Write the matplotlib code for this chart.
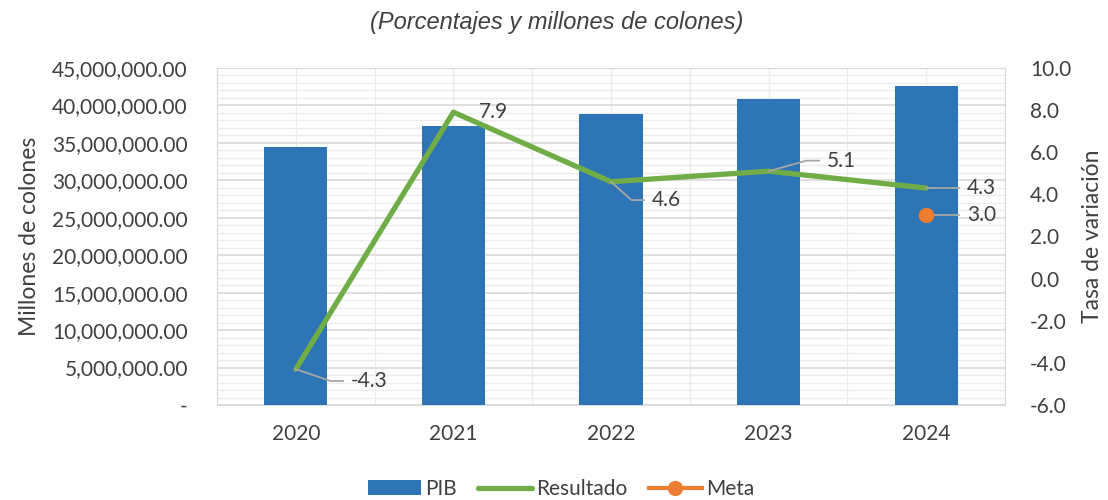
import matplotlib.pyplot as plt
from matplotlib.ticker import FuncFormatter, MultipleLocator
import numpy as np

years = ["2020", "2021", "2022", "2023", "2024"]
pib = [34400000, 37200000, 38900000, 40900000, 42600000]
resultado = [-4.3, 7.9, 4.6, 5.1, 4.3]
meta = [None, None, None, None, 3.0]

plt.rcParams["font.family"] = ["Lato", "DejaVu Sans"]
txt = "#404040"
fs = 15

fig = plt.figure(figsize=(11.08, 5), dpi=100)
ax = fig.add_axes([217 / 1108, 1 - 405 / 500, (1005 - 217) / 1108, (405 - 68) / 500])
x = np.arange(len(years))

ax.bar(x, pib, width=0.4, color="#2E75B6", zorder=3, label="PIB")
ax.set_xlim(-0.5, len(years) - 0.5)
ax.set_ylim(0, 45000000)
ax.yaxis.set_major_locator(MultipleLocator(5000000))
ax.yaxis.set_minor_locator(MultipleLocator(1000000))
ax.xaxis.set_major_locator(MultipleLocator(1))
ax.xaxis.set_minor_locator(MultipleLocator(0.5))
ax.set_xticks(x)
ax.set_xticklabels(years)
ax.yaxis.set_major_formatter(FuncFormatter(lambda v, p: "-" if v == 0 else f"{v:,.2f}"))
ax.grid(which="major", axis="y", color="#d9d9d9", lw=1.2, zorder=0)
ax.grid(which="minor", axis="y", color="#ececec", lw=1.0, zorder=0)
ax.grid(which="both", axis="x", color="#ececec", lw=1.0, zorder=0)
ax.tick_params(which="both", length=0, labelsize=fs, colors=txt, pad=21)
ax.tick_params(axis="x", pad=14)
for s in ax.spines.values():
    s.set_color("#d9d9d9")
ax.set_ylabel("Millones de colones", fontsize=16.5, color=txt, labelpad=9)

ax2 = ax.twinx()
ax2.set_ylim(-6, 10)
ax2.yaxis.set_major_locator(MultipleLocator(2))
ax2.yaxis.set_major_formatter(FuncFormatter(lambda v, p: f"{v:.1f}"))
ax2.tick_params(length=0, labelsize=fs, colors=txt, pad=18)
for s in ax2.spines.values():
    s.set_visible(False)
ax2.set_ylabel("Tasa de variación", fontsize=16.5, color=txt, labelpad=8)

ax2.plot(x, resultado, color="#70AD47", lw=3.8, zorder=4, label="Resultado", solid_capstyle="round")
meta_y = [np.nan if m is None else m for m in meta]
ax2.plot(x, meta_y, color="#ED7D31", lw=3, marker="o", ms=10, zorder=5, label="Meta")

# data labels with leader lines
lead = "#a6a6a6"
offs = [(0.35, -0.56), (0.16, 0.0), (0.26, -0.87), (0.37, 0.5), (0.26, 0.0)]
for i, (v, (dx, dy)) in enumerate(zip(resultado, offs)):
    tx, ty = x[i] + dx, v + dy
    if i == 1:
        ax2.text(tx, ty, f"{v:.1f}", fontsize=fs, color=txt, va="center", ha="left")
        continue
    if dy == 0:
        ax2.plot([x[i], tx - 0.05], [v, v], color=lead, lw=1.3, zorder=4)
    else:
        ax2.plot([x[i], tx - 0.13, tx - 0.05], [v, ty, ty], color=lead, lw=1.3, zorder=4)
    ax2.text(tx, ty, f"{v:.1f}", fontsize=fs, color=txt, va="center", ha="left")
for i, m in enumerate(meta):
    if m is None:
        continue
    ax2.plot([x[i], x[i] + 0.21], [m, m], color=lead, lw=1.3, zorder=4)
    ax2.text(x[i] + 0.26, m, f"{m:.1f}", fontsize=fs, color=txt, va="center", ha="left")

fig.text(557 / 1108, 1 - 22 / 500, "(Porcentajes y millones de colones)", fontsize=17,
         style="italic", family="Liberation Sans", color=txt, ha="center", va="center")

h1, l1 = ax.get_legend_handles_labels()
h2, l2 = ax2.get_legend_handles_labels()
fig.legend(h1 + h2, l1 + l2, loc="center", bbox_to_anchor=(561 / 1108, 1 - 489 / 500), ncol=3,
           frameon=False, fontsize=fs, labelcolor=txt, handlelength=2.55, columnspacing=1.05,
           handletextpad=0.2)

fig.savefig("out.png", dpi=100)
